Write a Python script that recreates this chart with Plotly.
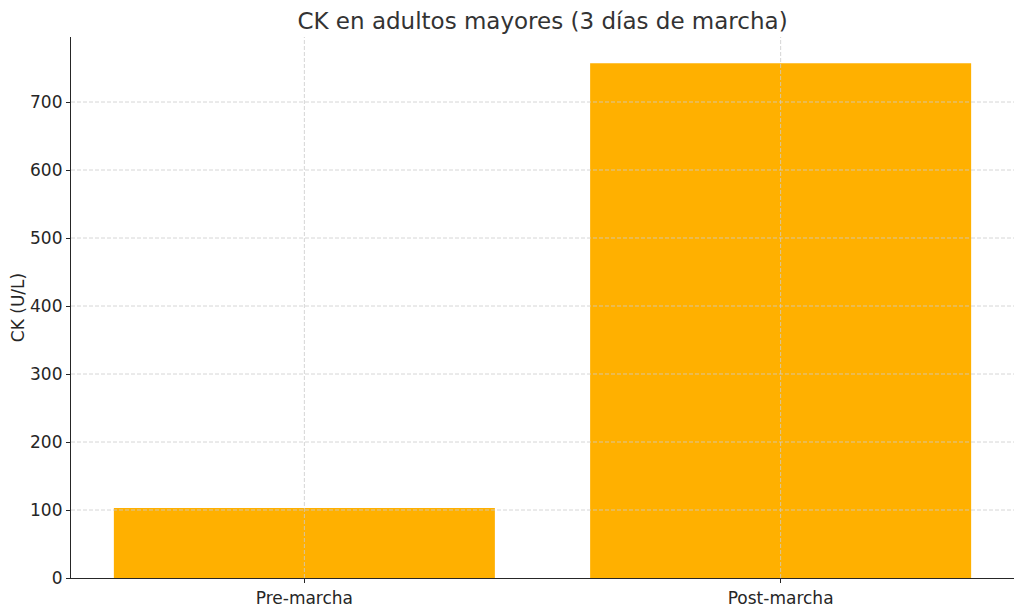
import plotly.graph_objects as go

categories = ["Pre-marcha", "Post-marcha"]
ck_values = [103, 757]
y_ticks = [0, 100, 200, 300, 400, 500, 600, 700]

BAR_COLOR = "#FFB000"
GRID_COLOR = "#cccccc"
AXIS_COLOR = "#262626"
FONT = "DejaVu Sans"

fig = go.Figure()
fig.add_trace(go.Bar(
    x=categories,
    y=ck_values,
    width=0.8,
    marker=dict(color=BAR_COLOR, line=dict(width=0)),
    hoverinfo="skip",
))

# Grid lines drawn above the bars (as in the reference)
for v in y_ticks[1:]:
    fig.add_shape(type="line", xref="paper", yref="y", x0=0, x1=1, y0=v, y1=v,
                  line=dict(color=GRID_COLOR, width=0.8, dash="4px,2px"), layer="above")
for c in categories:
    fig.add_shape(type="line", xref="x", yref="paper", x0=c, x1=c, y0=0, y1=1,
                  line=dict(color=GRID_COLOR, width=0.8, dash="4px,2px"), layer="above")

fig.update_layout(
    width=1024,
    height=611,
    margin=dict(l=71, r=10, t=37, b=33, autoexpand=False),
    paper_bgcolor="white",
    plot_bgcolor="white",
    showlegend=False,
    font=dict(family=FONT, size=17, color=AXIS_COLOR),
    title=dict(
        text="CK en adultos mayores (3 días de marcha)",
        x=(71 + 1014) / 2 / 1024,
        xanchor="center",
        y=1 - 21 / 611,
        yanchor="middle",
        font=dict(family=FONT, size=23, color="#333333"),
    ),
)

fig.update_xaxes(
    range=[-0.49, 1.49],
    showgrid=False,
    showline=True,
    linecolor=AXIS_COLOR,
    linewidth=1.2,
    ticks="outside",
    ticklen=4,
    tickcolor=AXIS_COLOR,
    tickfont=dict(family=FONT, size=17, color=AXIS_COLOR),
    automargin=False,
    zeroline=False,
)

fig.update_yaxes(
    range=[0, 795.6],
    tickvals=y_ticks,
    ticktext=[str(v) for v in y_ticks],
    showgrid=False,
    showline=True,
    linecolor=AXIS_COLOR,
    linewidth=1.2,
    ticks="outside",
    ticklen=4,
    tickcolor=AXIS_COLOR,
    tickfont=dict(family=FONT, size=17, color=AXIS_COLOR),
    title=dict(text="CK (U/L)", font=dict(family=FONT, size=17, color=AXIS_COLOR), standoff=1),
    automargin=False,
    zeroline=False,
)

fig.write_html(
    "out.html",
    config={"displayModeBar": False},
    post_script="document.body.style.margin='0';document.body.style.overflow='hidden';",
)
